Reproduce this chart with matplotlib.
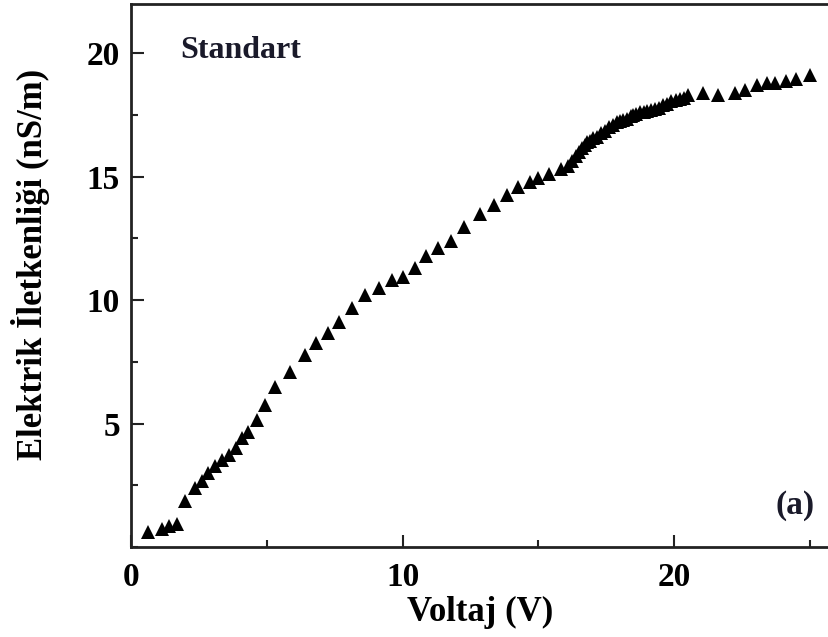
import matplotlib
matplotlib.use("Agg")
import matplotlib.pyplot as plt
from matplotlib.ticker import MultipleLocator

# values
voltage = [0.63, 1.15, 1.4, 1.7, 2.0, 2.35, 2.6, 2.85, 3.1, 3.35, 3.6, 3.85,
           4.1, 4.3, 4.65, 4.95, 5.3, 5.85, 6.4, 6.8, 7.25, 7.65, 8.15, 8.6,
           9.15, 9.6, 10.0, 10.45, 10.85, 11.3, 11.8, 12.25, 12.85, 13.35,
           13.85, 14.25, 14.7, 15.0, 15.4, 15.85, 16.1, 16.25, 16.4, 16.5,
           16.6, 16.7, 16.8, 16.9, 17.0, 17.15, 17.3, 17.45, 17.6, 17.75,
           17.9, 18.0, 18.1, 18.25, 18.4, 18.5, 18.6, 18.75, 18.9, 19.0,
           19.15, 19.3, 19.45, 19.6, 19.75, 19.9, 20.05, 20.2, 20.35, 20.5,
           21.05, 21.6, 22.25, 22.6, 23.05, 23.4, 23.7, 24.1, 24.5, 25.0]
conductivity = [0.6, 0.75, 0.85, 0.95, 1.85, 2.4, 2.67, 3.0, 3.27, 3.55, 3.75, 4.03,
                4.43, 4.67, 5.16, 5.77, 6.5, 7.1, 7.8, 8.27, 8.67, 9.1, 9.68, 10.2,
                10.5, 10.8, 10.95, 11.3, 11.8, 12.1, 12.4, 12.95, 13.5, 13.85,
                14.25, 14.57, 14.78, 14.95, 15.1, 15.3, 15.45, 15.65, 15.85, 16.0,
                16.15, 16.3, 16.4, 16.45, 16.55, 16.6, 16.75, 16.85, 17.0, 17.1,
                17.2, 17.25, 17.3, 17.35, 17.45, 17.5, 17.55, 17.6, 17.6, 17.65,
                17.7, 17.75, 17.8, 17.9, 17.95, 18.05, 18.1, 18.15, 18.2, 18.3,
                18.37, 18.3, 18.4, 18.5, 18.7, 18.78, 18.8, 18.86, 18.97, 19.1]
x_major = [0, 10, 20]
y_major = [5, 10, 15, 20]

plt.rcParams['font.family'] = ['Liberation Serif', 'DejaVu Serif']
plt.rcParams['font.weight'] = 'bold'

fig = plt.figure(figsize=(8.29, 6.37), dpi=100)
ax = fig.add_axes([0.158, 0.141, 0.842, 0.853])

ax.plot(voltage, conductivity, linestyle='none', marker='^', markersize=10,
        color='black', markeredgewidth=0)

ax.set_xlim(0, 25.7)
ax.set_ylim(0, 22)
ax.set_xticks(x_major)
ax.set_yticks(y_major)
ax.xaxis.set_minor_locator(MultipleLocator(5))
ax.yaxis.set_minor_locator(MultipleLocator(2.5))
ax.tick_params(which='both', direction='in', top=False, right=False,
               width=1.5, colors='#222222', labelcolor='black', labelsize=24)
ax.tick_params(which='major', length=9)
ax.tick_params(which='minor', length=5)
ax.tick_params(axis='x', pad=11)
ax.tick_params(axis='y', pad=8)

for side in ['left', 'bottom', 'top']:
    ax.spines[side].set_linewidth(2)
    ax.spines[side].set_color('#222222')
ax.spines['right'].set_visible(False)

ax.set_xlabel('Voltaj (V)', fontsize=25, fontweight='bold', labelpad=2)
ax.set_ylabel('Elektrik İletkenliği (nS/m)', fontsize=25, fontweight='bold')
ax.yaxis.set_label_coords(-0.116, 0.52)

ax.text(0.07, 0.915, 'Standart', transform=ax.transAxes, fontsize=23,
        fontweight='bold', color='#1a1a2a', ha='left', va='center')
ax.text(0.98, 0.077, '(a)', transform=ax.transAxes, fontsize=24,
        fontweight='bold', color='#1a1a2a', ha='right', va='center')

fig.savefig('out.png', dpi=100, facecolor='white')
